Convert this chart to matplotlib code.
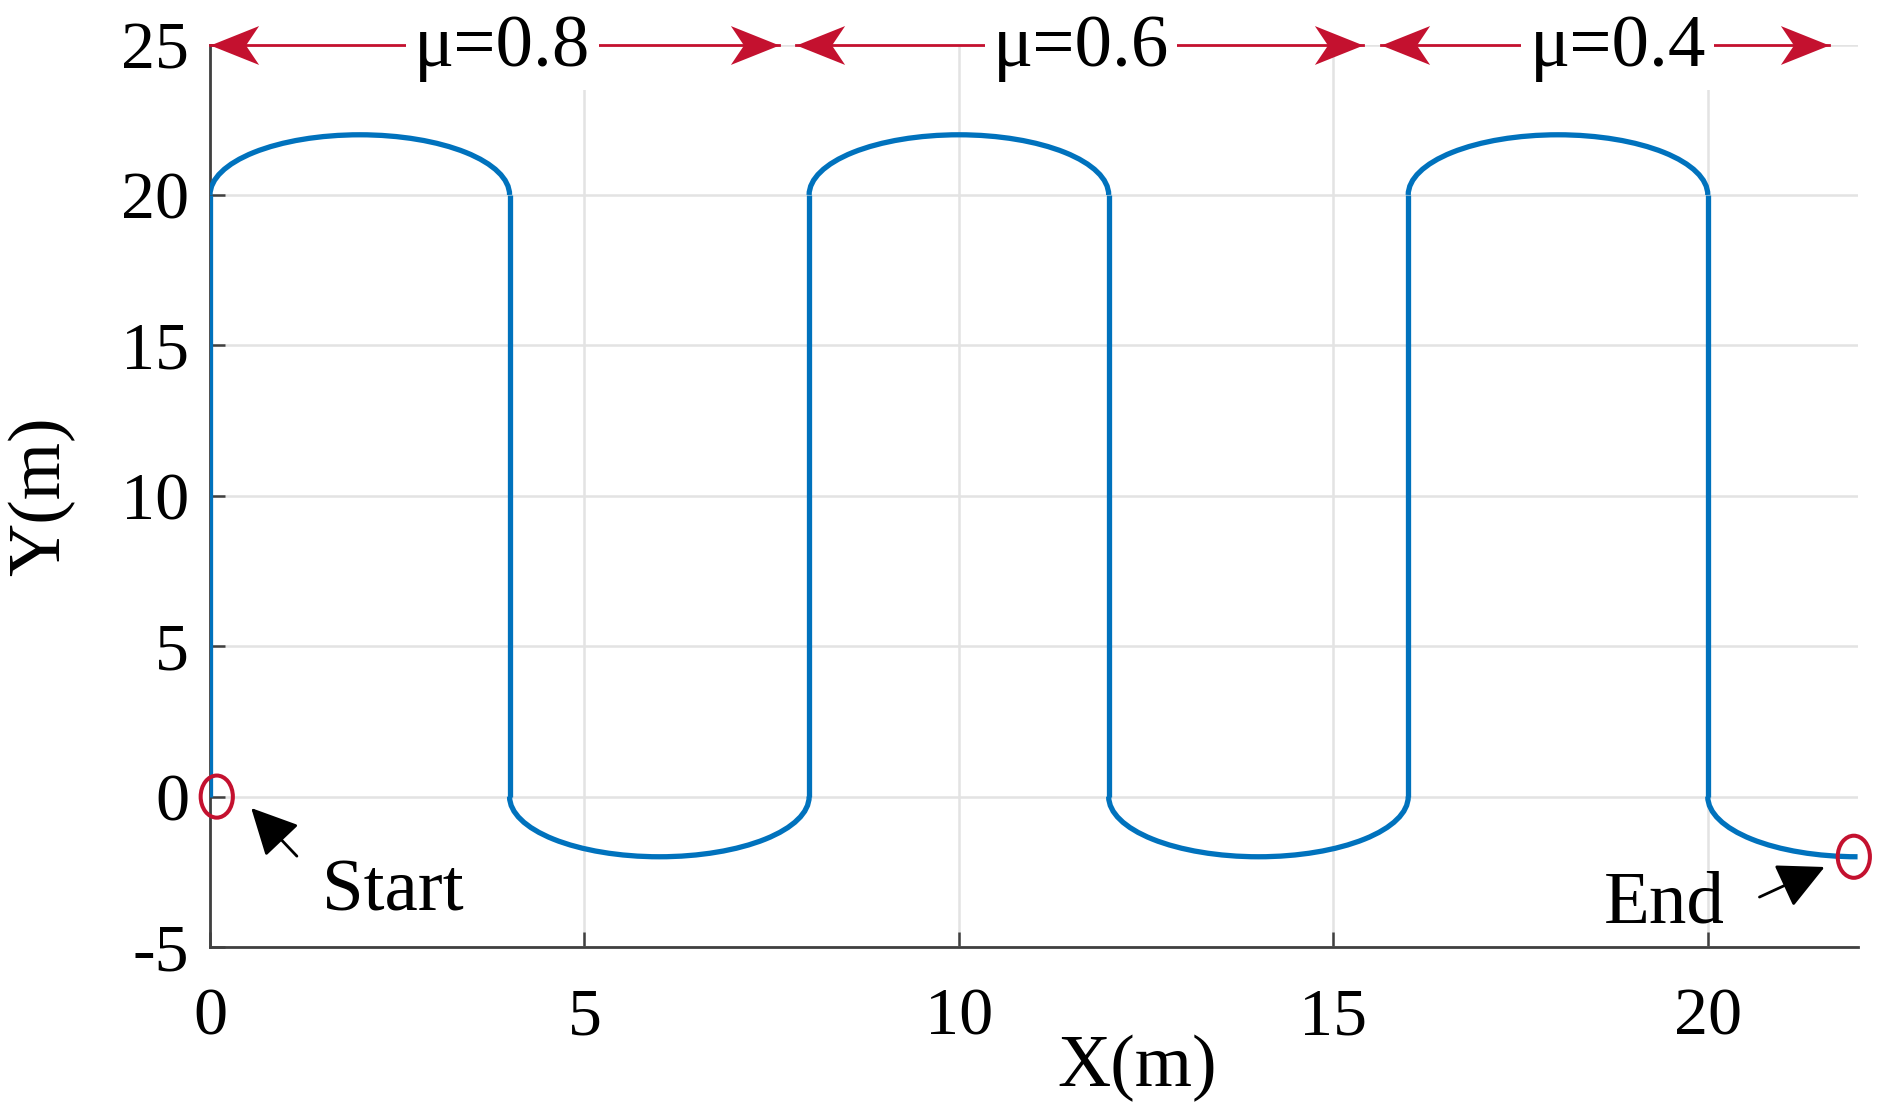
import numpy as np
import matplotlib.pyplot as plt
from matplotlib.patches import Arc, Ellipse
from matplotlib.path import Path

plt.rcParams['font.family'] = ['Liberation Serif', 'DejaVu Serif']
plt.rcParams['axes.unicode_minus'] = False

# path pieces (m)
leg_x = [0, 4, 8, 12, 16, 20]          # straight passes, y from 0 to 20
leg_y = [0, 20]
top_cx = [2, 10, 18]                   # upper U-turns, centre y = 20
top_cy = 20
bot_cx = [6, 14]                       # lower U-turns, centre y = 0
bot_cy = 0
turn_w, turn_h = 4, 4
end_turn = (22, 0)                     # last quarter turn to the end point

start_pt = (0.09, 0.0)
end_pt = (21.95, -2.0)

# friction zones on top
mu_labels = ['μ=0.8', 'μ=0.6', 'μ=0.4']
mu_x = [3.9, 11.63, 18.8]
span_left = [0, 7.83, 15.64]
span_right = [7.6, 15.4, 21.62]

xticks = [0, 5, 10, 15, 20]
yticks = [-5, 0, 5, 10, 15, 20, 25]

blue = '#0072BD'
red = '#C4112F'
lw_path = 3.8

fig = plt.figure(figsize=(18.87, 11.19), dpi=100)
ax = fig.add_axes([0.1113, 0.1537, 0.8731, 0.8065])

ax.vlines(leg_x, leg_y[0], leg_y[1], color=blue, lw=lw_path, zorder=3)
for cx in top_cx:
    ax.add_patch(Arc((cx, top_cy), turn_w, turn_h, theta1=0, theta2=180,
                     color=blue, lw=lw_path, zorder=3))
for cx in bot_cx:
    ax.add_patch(Arc((cx, bot_cy), turn_w, turn_h, theta1=180, theta2=360,
                     color=blue, lw=lw_path, zorder=3))
ax.add_patch(Arc(end_turn, turn_w, turn_h, theta1=180, theta2=270,
                 color=blue, lw=lw_path, zorder=3))

# start / end markers
for p in [start_pt, end_pt]:
    ax.add_patch(Ellipse(p, 0.43, 1.4, fill=False, edgecolor=red, lw=2.9,
                         zorder=4, clip_on=False))

arrow_kw = dict(arrowstyle='-|>,head_length=1.0,head_width=0.5',
                color='black', lw=2, mutation_scale=29, shrinkA=0, shrinkB=0)
ax.annotate('', xy=(0.55, -0.38), xytext=(1.16, -1.98), arrowprops=arrow_kw)
ax.annotate('', xy=(21.56, -2.34), xytext=(20.69, -3.34), arrowprops=arrow_kw)
ax.text(1.5, -3.8, 'Start', fontsize=54, ha='left', va='baseline')
ax.text(18.61, -4.2, 'End', fontsize=54, ha='left', va='baseline')

# double arrows for the friction zones
left_head = Path([(0, 0), (1, 0.4), (0.73, 0), (1, -0.4), (0, 0)],
                 [Path.MOVETO, Path.LINETO, Path.LINETO, Path.LINETO, Path.CLOSEPOLY])
right_head = Path([(0, 0), (-1, 0.4), (-0.73, 0), (-1, -0.4), (0, 0)],
                  [Path.MOVETO, Path.LINETO, Path.LINETO, Path.LINETO, Path.CLOSEPOLY])
for lab, xm, xl, xr in zip(mu_labels, mu_x, span_left, span_right):
    ax.plot([xl, xr], [25, 25], color=red, lw=2, clip_on=False, zorder=5)
    ax.plot([xl], [25], marker=left_head, ms=70, color=red, mec=red, mew=0,
            clip_on=False, zorder=6)
    ax.plot([xr], [25], marker=right_head, ms=70, color=red, mec=red, mew=0,
            clip_on=False, zorder=6)
    ax.text(xm, 24.3, lab, fontsize=54, ha='center', va='baseline', zorder=7,
            bbox=dict(facecolor='white', edgecolor='none', pad=6))

ax.set_xlim(0, 22)
ax.set_ylim(-5, 25)
ax.set_xticks(xticks)
ax.set_yticks(yticks)
ax.grid(True, color='#E3E3E3', lw=1.8)
ax.set_axisbelow(True)
for s in ['top', 'right']:
    ax.spines[s].set_visible(False)
for s in ['left', 'bottom']:
    ax.spines[s].set_color('#404040')
    ax.spines[s].set_linewidth(2)
ax.tick_params(direction='in', length=11, width=1.8, color='#404040',
               labelcolor='black', labelsize=49)
ax.tick_params(axis='x', pad=29)
ax.tick_params(axis='y', pad=15)

ax.set_xlabel('X(m)', fontsize=53)
ax.xaxis.set_label_coords(0.563, -0.097)
ax.set_ylabel('Y(m)', fontsize=53)
ax.yaxis.set_label_coords(-0.082, 0.5)

fig.savefig('out.png', dpi=100)
